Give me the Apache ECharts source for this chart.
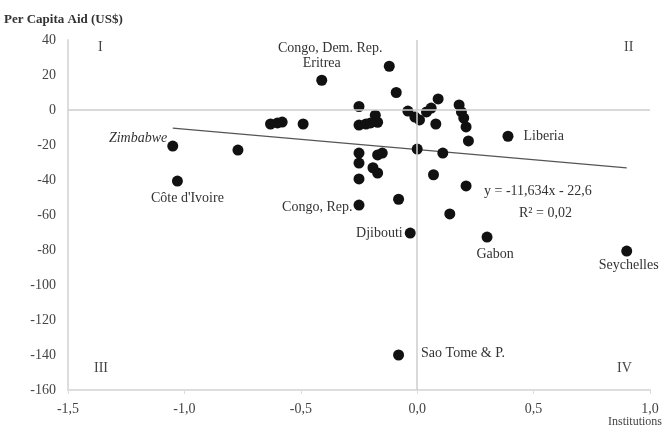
<!DOCTYPE html>
<html>
<head>
<meta charset="utf-8">
<script src="https://cdn.jsdelivr.net/npm/echarts@6/dist/echarts.min.js"></script>
<style>html,body{margin:0;padding:0;background:#fff}#c{width:665px;height:442px}</style>
</head>
<body>
<div id="c"></div>
<script>
// Institutions (x) and per capita aid change (y)
const ptX = [-0.41,-0.12,-0.09,-0.25,-0.18,-0.17,-0.25,-0.22,-0.20,-0.04,-0.01,0.01,0.04,0.06,0.09,0.08,0.18,0.19,0.20,0.21,0.22,0.39,
  -0.25,-0.25,-0.25,-0.17,-0.15,-0.19,-0.17,0.00,0.11,0.07,0.21,-0.08,-0.25,0.14,-0.03,0.30,0.90,-0.08,-1.05,-1.03,-0.77,-0.63,-0.60,-0.58,-0.49];
const ptY = [17,25,10,2,-3,-7,-8.6,-8,-7.4,-0.6,-4,-5.7,-1.1,1.1,6.3,-8,2.9,-1.1,-4.6,-9.7,-17.7,-15,
  -24.6,-30.3,-39.4,-25.7,-24.6,-33,-36,-22.3,-24.6,-37,-43.4,-51,-54.3,-59.4,-70.3,-72.6,-80.6,-140,-20.6,-40.6,-22.9,-8,-7.4,-6.9,-8];
const ptName = ['Eritrea','Congo, Dem. Rep.','','','','','','','','','','','','','','','','','','','','Liberia',
  '','','','','','','','','','','','','Congo, Rep.','','Djibouti','Gabon','Seychelles','Sao Tome & P.','Zimbabwe',"Côte d'Ivoire",'','','','',''];
const xTicks = [-1.5,-1.0,-0.5,0.0,0.5,1.0];
const yTicks = [40,20,0,-20,-40,-60,-80,-100,-120,-140,-160];
const trendSlope = -11.634, trendIntercept = -22.6;
const trendX = [-1.05, 0.9];
const quadrants = ['I','II','III','IV'];

const FONT = 'Liberation Serif';
const labelStyle = {
  'Eritrea': {position:'top', offset:[0,1]},
  'Congo, Dem. Rep.': {position:'top', offset:[-59,0]},
  'Liberia': {position:'right', offset:[5,0]},
  'Congo, Rep.': {position:'left', offset:[4,2]},
  'Djibouti': {position:'left', offset:[3,0]},
  'Gabon': {position:'bottom', offset:[8,0]},
  'Seychelles': {position:'bottom', offset:[2,-3]},
  'Sao Tome & P.': {position:'right', offset:[12,-2]},
  'Zimbabwe': {position:'left', offset:[5,-8], fontStyle:'italic'},
  "Côte d'Ivoire": {position:'bottom', offset:[10,0]}
};
const pts = ptX.map((x,i)=>{
  const d = {value:[x, ptY[i]], name: ptName[i]};
  if (ptName[i]) {
    d.label = Object.assign({show:true, formatter:'{b}', color:'#333', fontFamily:FONT, fontSize:14}, labelStyle[ptName[i]]);
  }
  return d;
});
const trend = trendX.map(x=>[x, trendSlope*x + trendIntercept]);
const fmt = v => (Math.round(v*10)/10).toFixed(1).replace('.',',');

const chart = echarts.init(document.getElementById('c'), null, {renderer:'canvas'});
chart.setOption({
  animation:false,
  backgroundColor:'#fff',
  grid:{left:68, right:15, top:40, bottom:52},
  xAxis:{type:'value', min:-1.5, max:1.0, interval:0.5,
    axisLine:{show:true, onZero:false, lineStyle:{color:'#ddd', width:2}},
    axisTick:{show:true, length:4, lineStyle:{color:'#ddd'}},
    splitLine:{show:false},
    axisLabel:{color:'#444', fontFamily:FONT, fontSize:14, margin:12, formatter:v=>fmt(v)},
    name:'Institutions', nameLocation:'end', nameGap:0,
    nameTextStyle:{color:'#444', fontFamily:FONT, fontSize:12, align:'right', verticalAlign:'top', padding:[26,-12,0,0]}
  },
  yAxis:{type:'value', min:-160, max:40, interval:20,
    axisLine:{show:true, onZero:false, lineStyle:{color:'#ddd', width:2}},
    axisTick:{show:false},
    splitLine:{show:false},
    axisLabel:{color:'#444', fontFamily:FONT, fontSize:14, margin:12},
    name:'Per Capita Aid (US$)', nameLocation:'end', nameGap:14,
    nameTextStyle:{color:'#333', fontFamily:FONT, fontSize:13, fontWeight:'bold', align:'left', padding:[0,0,0,-64]}
  },
  series:[
    {type:'line', data:trend, symbol:'none', silent:true,
      lineStyle:{color:'#555', width:1.2}, z:2,
      markLine:{silent:true, symbol:'none', label:{show:false},
        lineStyle:{color:'#ccc', width:1.5, type:'solid'},
        data:[{xAxis:0},{yAxis:0}]}
    },
    {type:'scatter', data:pts, symbolSize:11, itemStyle:{color:'#111', opacity:1}, z:3}
  ],
  graphic:[
    {type:'text', left:98, top:40, style:{text:quadrants[0], font:'14px '+FONT, fill:'#444'}},
    {type:'text', left:624, top:40, style:{text:quadrants[1], font:'14px '+FONT, fill:'#444'}},
    {type:'text', left:94, top:361, style:{text:quadrants[2], font:'14px '+FONT, fill:'#444'}},
    {type:'text', left:617, top:361, style:{text:quadrants[3], font:'14px '+FONT, fill:'#444'}},
    {type:'text', left:484, top:184, style:{text:'y = -11,634x - 22,6', font:'14px '+FONT, fill:'#333'}},
    {type:'text', left:519, top:206, style:{text:'R² = 0,02', font:'14px '+FONT, fill:'#333'}}
  ]
});
</script>
</body>
</html>
